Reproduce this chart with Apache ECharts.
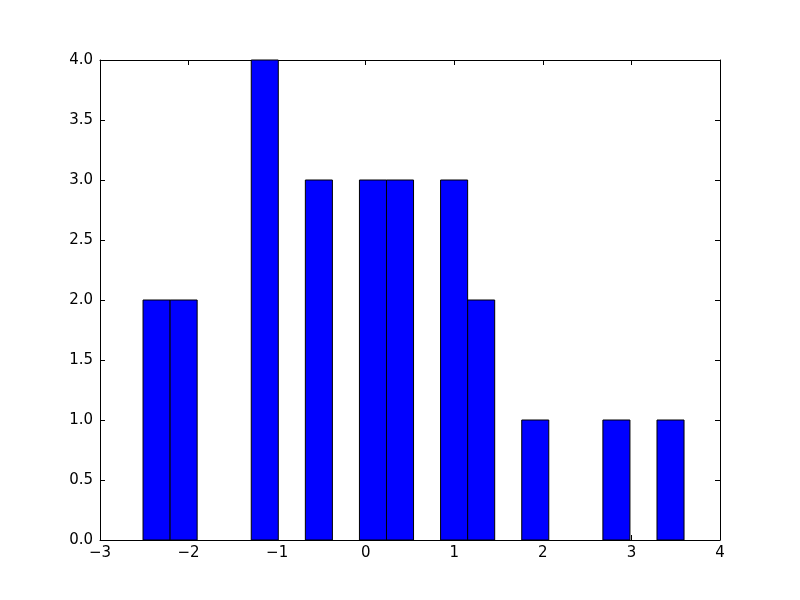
<!DOCTYPE html>
<html><head><meta charset="utf-8">
<script src="https://cdn.jsdelivr.net/npm/echarts@6/dist/echarts.min.js"></script>
<style>html,body{margin:0;padding:0;background:#fff}#c{width:800px;height:600px}</style>
</head><body><div id="c"></div>
<script>
// Histogram: 20 bins between data min and max
const binStart = -2.514;
const binWidth = 0.3054;
const counts = [2, 2, 0, 0, 4, 0, 3, 0, 3, 3, 0, 3, 2, 0, 1, 0, 0, 1, 0, 1];
const xTicks = [-3, -2, -1, 0, 1, 2, 3, 4];
const yTicks = [0, 0.5, 1, 1.5, 2, 2.5, 3, 3.5, 4];

const bins = counts.map((c, i) => [binStart + i * binWidth, binStart + (i + 1) * binWidth, c]).filter(b => b[2] > 0);

const font = 'DejaVu Sans';
const fmtX = v => (v < 0 ? '\u2212' + Math.abs(v) : String(v));
const axisCommon = {
  axisLine: { show: true, onZero: false, lineStyle: { color: '#000', width: 1 } },
  axisTick: { show: true, inside: true, length: 5, lineStyle: { color: '#000' } },
  splitLine: { show: false }
};
const chart = echarts.init(document.getElementById('c'), null, { renderer: 'canvas' });
chart.setOption({
  animation: false,
  grid: { left: 100, right: 80, top: 60, bottom: 60, containLabel: false },
  xAxis: [
    Object.assign({ type: 'value', min: xTicks[0], max: xTicks[xTicks.length - 1], interval: 1, position: 'bottom',
      axisLabel: { color: '#000', fontFamily: font, fontSize: 15, margin: 6, formatter: fmtX } }, axisCommon),
    Object.assign({ type: 'value', min: xTicks[0], max: xTicks[xTicks.length - 1], interval: 1, position: 'top',
      axisLabel: { show: false } }, axisCommon)
  ],
  yAxis: [
    Object.assign({ type: 'value', min: yTicks[0], max: yTicks[yTicks.length - 1], interval: 0.5, position: 'left',
      axisLabel: { color: '#000', fontFamily: font, fontSize: 15, margin: 7, formatter: v => v.toFixed(1) } }, axisCommon),
    Object.assign({ type: 'value', min: yTicks[0], max: yTicks[yTicks.length - 1], interval: 0.5, position: 'right',
      axisLabel: { show: false } }, axisCommon)
  ],
  series: [{
    type: 'custom',
    xAxisIndex: 0, yAxisIndex: 0,
    data: bins,
    renderItem: function (params, api) {
      const p0 = api.coord([api.value(0), 0]);
      const p1 = api.coord([api.value(1), api.value(2)]);
      return {
        type: 'rect',
        shape: { x: p0[0], y: p1[1], width: p1[0] - p0[0], height: p0[1] - p1[1] },
        style: { fill: '#0000ff', stroke: '#000', lineWidth: 1 }
      };
    },
    z: 1
  }]
});
</script></body></html>
